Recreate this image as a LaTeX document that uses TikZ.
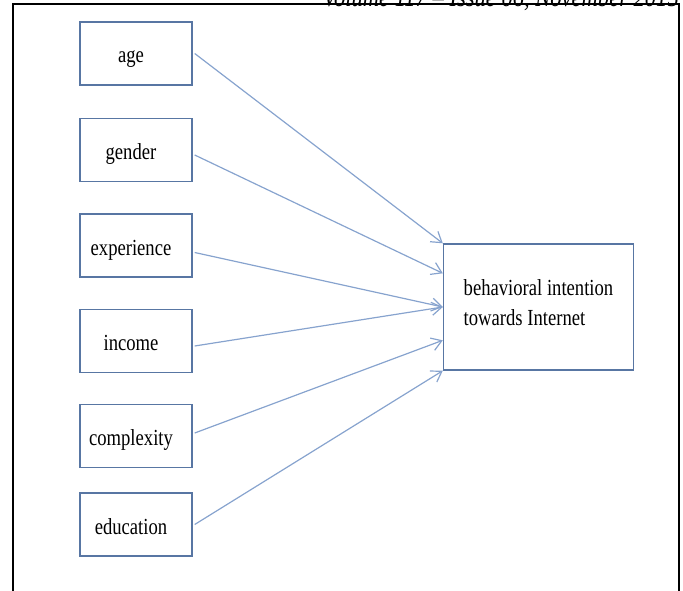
\documentclass[tikz,border=0pt]{standalone}
\usepackage{fontspec}
\setmainfont{Liberation Serif}[FakeStretch=0.81]
\usetikzlibrary{arrows.meta,calc}
\definecolor{boxline}{RGB}{88,118,163}
\definecolor{arrline}{RGB}{135,163,206}
\begin{document}
\begin{tikzpicture}[x=1bp,y=-1bp,
  src/.style={draw=boxline, line width=1.4bp, minimum width=112bp, minimum height=63bp,
    inner sep=0pt, text height=19bp, text depth=0pt, font=\fontsize{23bp}{30bp}\selectfont,
    execute at end node={\hspace*{10bp}}},
  tgt/.style={draw=boxline, line width=1.4bp, minimum width=190bp, minimum height=126bp,
    inner sep=0pt, align=left, text height=46bp, text depth=10bp, font=\fontsize{23bp}{30bp}\selectfont},
  arr/.style={draw=arrline, line width=1.2bp, -{Straight Barb[length=10bp,width=13bp]}},
  frame/.style={line width=2bp, draw=black}]
\useasboundingbox (0,0) rectangle (683,591);
\clip (0,0) rectangle (683,591);
\node[anchor=base east, inner sep=0pt] (hdr) at (679,6.5)
  {\resizebox{356bp}{19bp}{\itshape Volume 117 – Issue 06, November 2015}};
\draw[frame] (13,600) -- (13,4.5) -- (679,4.5) -- (679,600);
\node[src] (age) at (136,53.5) {age};
\node[src] (gender) at (136,150) {gender};
\node[src] (exp) at (136,245.5) {experience};
\node[src] (inc) at (136,341) {income};
\node[src] (cpx) at (136,436) {complexity};
\node[src] (edu) at (136,524.5) {education};
\node[tgt] (bi) at (538.5,307) {behavioral intention\\towards Internet};
\draw[arr] ([xshift=2bp]age.east) -- (bi.north west);
\draw[arr] ([xshift=2bp,yshift=-5bp]gender.east) -- ($(bi.north west)+(0,30)$);
\draw[arr] ([xshift=2bp,yshift=-7bp]exp.east) -- (bi.west);
\draw[arr] ([xshift=2bp,yshift=-5bp]inc.east) -- (bi.west);
\draw[arr] ([xshift=2bp,yshift=3bp]cpx.east) -- ($(bi.north west)+(0,97)$);
\draw[arr] ([xshift=2bp]edu.east) -- (bi.south west);
\end{tikzpicture}
\end{document}
